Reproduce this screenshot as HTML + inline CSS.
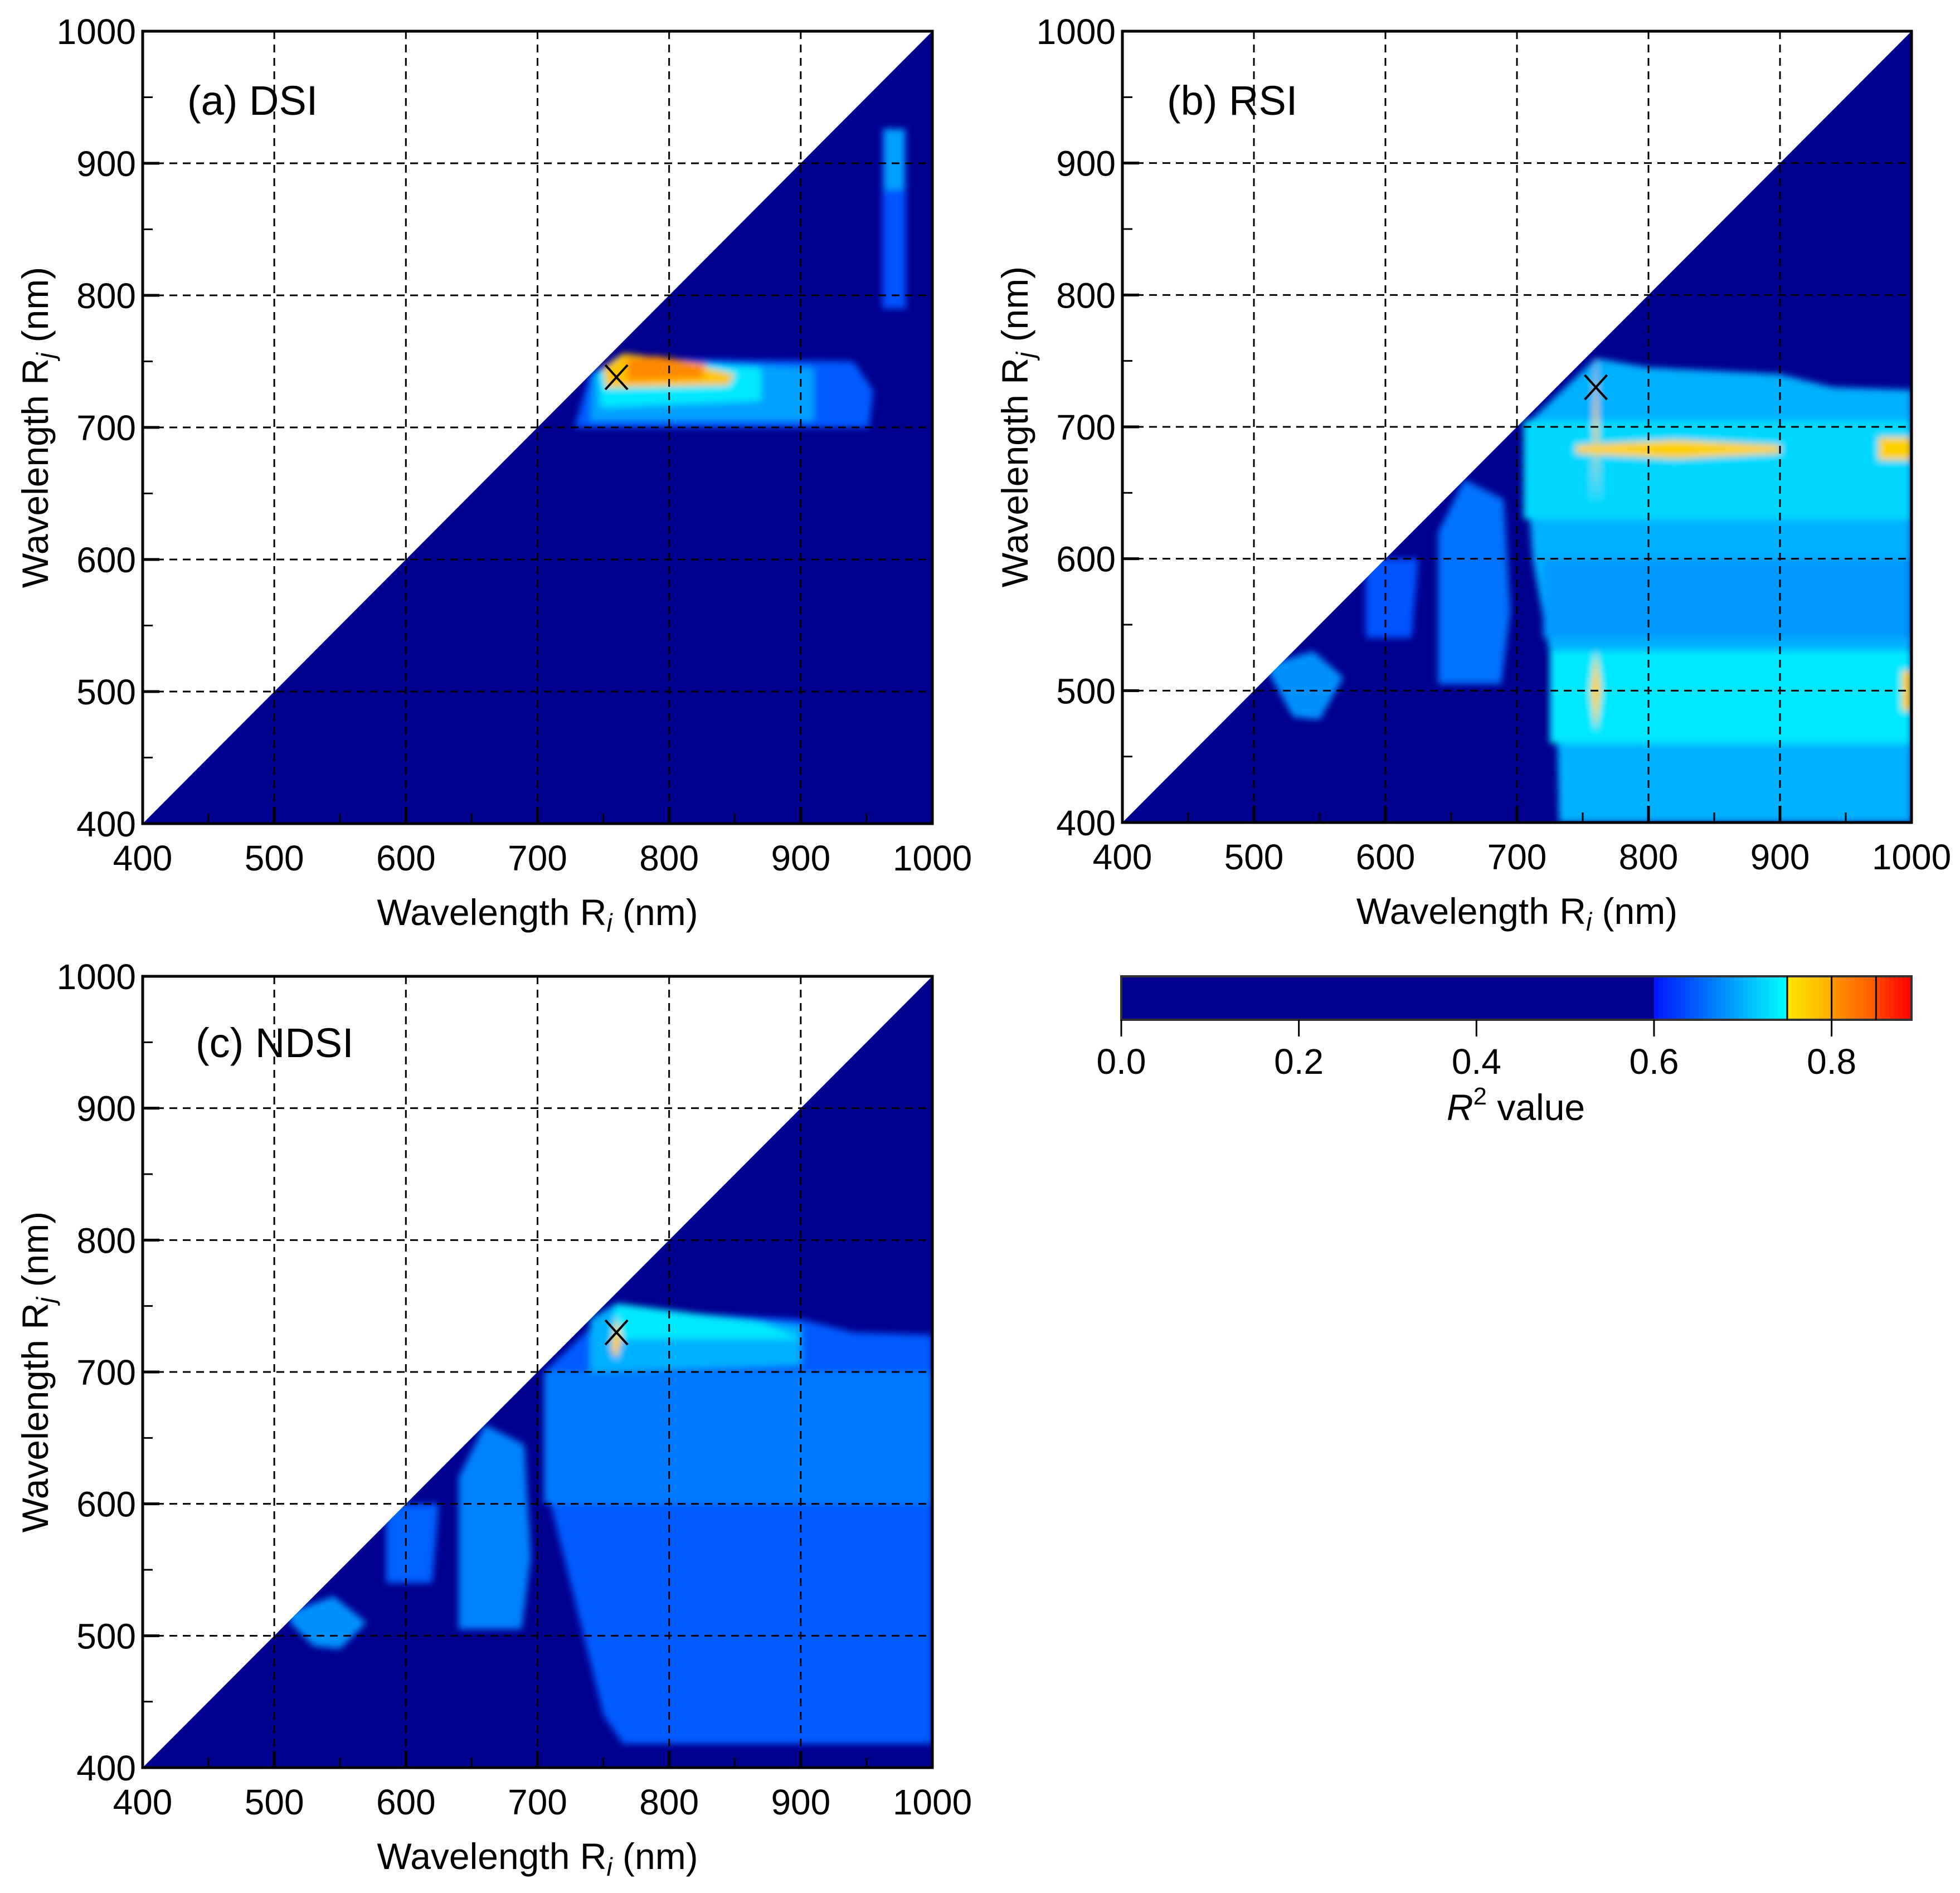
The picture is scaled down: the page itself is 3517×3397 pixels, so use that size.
<!DOCTYPE html>
<html><head><meta charset="utf-8">
<style>
html,body{margin:0;padding:0;background:#fff;}
svg{display:block;font-family:"Liberation Sans",Arial,sans-serif;}
</style></head>
<body>
<svg id="fig" width="3517" height="3397" viewBox="0 0 3517 3397" xmlns="http://www.w3.org/2000/svg">
<defs>
<filter id="soft" x="-5%" y="-5%" width="110%" height="110%"><feGaussianBlur stdDeviation="6"/></filter>
</defs>
</svg>
<script>
// ---- data ----
const axisTicks = [400,500,600,700,800,900,1000];
const minorTicks = [450,550,650,750,850,950];
const gridVals = [500,600,700,800,900];
const panelNames = ["(a) DSI","(b) RSI","(c) NDSI"];
// regions: polygons in wavelength coords [Ri, Rj] with R2 values
const regionsA = [
  {pts:[[728,700],[952,700],[955,728],[940,750],[760,752],[740,740]], r2:0.645},
  {pts:[[740,705],[910,705],[910,745],[760,752],[742,740]], r2:0.69},
  {pts:[[748,715],[870,720],[870,745],[760,753],[746,742]], r2:0.735},
  {pts:[[752,730],[845,732],[850,740],[800,752],[765,756],[750,745]], r2:0.78},
  {pts:[[768,735],[825,737],[828,748],[790,754],[768,752]], r2:0.81},
  {pts:[[962,790],[980,790],[980,926],[962,926]], r2:0.64},
  {pts:[[964,880],[978,880],[978,926],[964,926]], r2:0.69}
];
const regionsB = [
  {pts:[[732,400],[1000,400],[1000,728],[940,730],[900,740],[800,745],[760,752],[705,700],[712,600],[730,500]], r2:0.70},
  {pts:[[705,630],[1000,630],[1000,705],[705,705]], r2:0.725},
  {pts:[[725,460],[1000,460],[1000,530],[725,530]], r2:0.735},
  {pts:[[720,540],[1000,540],[1000,600],[720,600]], r2:0.685},
  {pts:[[745,686],[820,690],[900,686],[900,680],[820,676],[745,680]], r2:0.77},
  {pts:[[757,640],[760,700],[763,640],[760,755]], r2:0.77},
  {pts:[[756,500],[760,470],[764,500],[760,530]], r2:0.77},
  {pts:[[975,675],[1000,675],[1000,692],[975,692]], r2:0.77},
  {pts:[[993,485],[1000,485],[1000,515],[993,515]], r2:0.77},
  {pts:[[640,505],[688,505],[695,560],[690,645],[660,660],[640,620]], r2:0.66},
  {pts:[[585,540],[620,540],[625,600],[585,600]], r2:0.64},
  {pts:[[512,520],[545,530],[568,510],[550,478],[530,480],[512,512]], r2:0.68}
];
const regionsC = [
  {pts:[[765,418],[1000,418],[1000,728],[940,730],[900,740],[800,745],[760,752],[705,700],[710,600],[735,500],[750,440]], r2:0.645},
  {pts:[[705,600],[1000,600],[1000,700],[705,700]], r2:0.665},
  {pts:[[740,700],[900,705],[900,735],[800,745],[760,752],[740,740]], r2:0.70},
  {pts:[[755,725],[900,725],[870,738],[760,752]], r2:0.735},
  {pts:[[756,718],[760,710],[764,725],[760,742]], r2:0.77},
  {pts:[[640,505],[688,505],[695,560],[690,645],[660,660],[640,620]], r2:0.67},
  {pts:[[585,540],[620,540],[625,600],[585,600]], r2:0.65},
  {pts:[[512,518],[545,530],[570,510],[550,490],[530,492],[512,510]], r2:0.68}
];
const markers = [[760,738],[760,730],[760,730]];
const cbTicks = [0.0,0.2,0.4,0.6,0.8];
const cbMax = 0.89;

// ---- helpers ----
const NS="http://www.w3.org/2000/svg";
const svg=document.getElementById('fig');
function mk(tag,attrs,parent){const e=document.createElementNS(NS,tag);for(const k in attrs)e.setAttribute(k,attrs[k]);(parent||svg).appendChild(e);return e;}
function color(v){
  if(v<0.6) return 'rgb(0,0,143)';
  if(v<0.75){const t=(v-0.6)/0.15;return `rgb(0,${Math.round(20+235*t)},255)`;}
  if(v<0.8){const t=(v-0.75)/0.05;return `rgb(255,${Math.round(230-55*t)},0)`;}
  if(v<0.85){const t=(v-0.8)/0.05;return `rgb(255,${Math.round(150-60*t)},0)`;}
  const t=Math.min(1,(v-0.85)/0.04);return `rgb(255,${Math.round(70-70*t)},0)`;
}
const panels=[
  {L:256,R:1673,T:56,B:1478,regions:regionsA},
  {L:2014,R:3430,T:56,B:1476,regions:regionsB},
  {L:256,R:1673,T:1752,B:3172,regions:regionsC}
];
panels.forEach((p,i)=>{
  const sx=v=>p.L+(v-400)/600*(p.R-p.L);
  const sy=v=>p.B-(v-400)/600*(p.B-p.T);
  const g=mk('g',{});
  
  
  const cid='clip'+i;
  const cp=mk('clipPath',{id:cid},svg.querySelector('defs'));
  mk('polygon',{points:`${sx(400)},${sy(400)} ${sx(1000)},${sy(400)} ${sx(1000)},${sy(1000)}`},cp);
  const tri=mk('polygon',{points:`${sx(400)},${sy(400)} ${sx(1000)},${sy(400)} ${sx(1000)},${sy(1000)}`,fill:color(0)},g);
  
  
  const hg=mk('g',{'clip-path':`url(#${cid})`},g);
  const bg=mk('g',{filter:'url(#soft)'},hg);
  p.regions.forEach(r=>{
    const pg=mk('polygon',{points:r.pts.map(q=>sx(q[0])+','+sy(q[1])).join(' '),fill:color(r.r2)},bg);
    
    
  });
  gridVals.forEach(v=>{
    const a=mk('line',{x1:sx(v),x2:sx(v),y1:p.T,y2:p.B,stroke:'#000','stroke-width':3,'stroke-dasharray':'14,10'},g);
    
    
    const b=mk('line',{x1:p.L,x2:p.R,y1:sy(v),y2:sy(v),stroke:'#000','stroke-width':3,'stroke-dasharray':'14,10'},g);
    
    
  });
  const fr=mk('rect',{x:p.L,y:p.T,width:p.R-p.L,height:p.B-p.T,fill:'none',stroke:'#000','stroke-width':5},g);
  
  
  axisTicks.forEach(v=>{
    mk('line',{x1:sx(v),x2:sx(v),y1:p.B,y2:p.B-30,stroke:'#000','stroke-width':5},g);
    mk('line',{x1:p.L,x2:p.L+30,y1:sy(v),y2:sy(v),stroke:'#000','stroke-width':5},g);
    const tx=mk('text',{x:sx(v),y:p.B+84,'font-size':64,'text-anchor':'middle'},g);
    tx.textContent=v;
    
    
    const ty=mk('text',{x:p.L-12,y:sy(v)+23,'font-size':64,'text-anchor':'end'},g);
    ty.textContent=v;
    
    
  });
  minorTicks.forEach(v=>{
    mk('line',{x1:sx(v),x2:sx(v),y1:p.B,y2:p.B-18,stroke:'#000','stroke-width':3},g);
    mk('line',{x1:p.L,x2:p.L+18,y1:sy(v),y2:sy(v),stroke:'#000','stroke-width':3},g);
  });
  const xt=mk('text',{x:(p.L+p.R)/2,y:p.B+182,'font-size':66,'text-anchor':'middle'},g);
  xt.innerHTML='Wavelength R<tspan font-style="italic" font-size="46" dy="12">i</tspan><tspan dy="-12"> (nm)</tspan>';
  
  
  const cy=(p.T+p.B)/2;
  const yt=mk('text',{x:0,y:0,'font-size':66,'text-anchor':'middle',transform:`translate(${p.L-170},${cy}) rotate(-90)`},g);
  yt.innerHTML='Wavelength R<tspan font-style="italic" font-size="46" dy="12">j</tspan><tspan dy="-12"> (nm)</tspan>';
  
  
  const lb=mk('text',{x:p.L+(i==2?95:80),y:p.T+(i==2?145:150),'font-size':74},g);
  lb.textContent=panelNames[i];
  
  
  const m=markers[i];
  const mx=sx(m[0]),my=sy(m[1]);
  const mg=mk('g',{stroke:'#000','stroke-width':4},g);
  
  
  mk('line',{x1:mx-20,y1:my-22,x2:mx+20,y2:my+22},mg);
  mk('line',{x1:mx-20,y1:my+22,x2:mx+20,y2:my-22},mg);
});
// colorbar
const cb={L:2012,R:3430,T:1752,B:1830};
const cs=v=>cb.L+v/cbMax*(cb.R-cb.L);
const cg=mk('g',{});


for(let k=0;k<178;k++){
  const v0=k*0.005;
  const r=mk('rect',{x:cs(v0),y:cb.T,width:cs(0.005)-cs(0)+1,height:cb.B-cb.T,fill:color(v0+0.0025)},cg);
  
  
}
mk('rect',{x:cb.L,y:cb.T,width:cb.R-cb.L,height:cb.B-cb.T,fill:'none',stroke:'#333','stroke-width':4},cg);
[0.75,0.8,0.85].forEach(v=>mk('line',{x1:cs(v),x2:cs(v),y1:cb.T,y2:cb.B,stroke:'#000','stroke-width':3},cg));
cbTicks.forEach(v=>{
  mk('line',{x1:cs(v),x2:cs(v),y1:cb.B,y2:cb.B+30,stroke:'#000','stroke-width':3},cg);
  const t=mk('text',{x:cs(v),y:cb.B+97,'font-size':64,'text-anchor':'middle'},cg);
  t.textContent=v.toFixed(1);
  
  
});
const ct=mk('text',{x:2720,y:2010,'font-size':66,'text-anchor':'middle'},cg);
ct.innerHTML='<tspan font-style="italic">R</tspan><tspan font-size="44" dy="-28">2</tspan><tspan dy="28"> value</tspan>';


</script>
</body></html>
